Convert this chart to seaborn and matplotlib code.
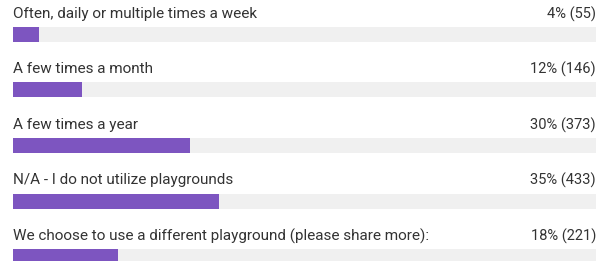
import pandas as pd
import seaborn as sns
import matplotlib.pyplot as plt

answers = [
    "Often, daily or multiple times a week",
    "A few times a month",
    "A few times a year",
    "N/A - I do not utilize playgrounds",
    "We choose to use a different playground (please share more):",
]
counts = [55, 146, 373, 433, 221]
pct_labels = ["4%", "12%", "30%", "35%", "18%"]

total = sum(counts)
df = pd.DataFrame({"answer": answers, "count": counts, "total": [total] * len(counts)})

plt.rcParams["font.family"] = ["Roboto", "DejaVu Sans"]

fig = plt.figure(figsize=(6.08, 2.61), dpi=100)
ax = fig.add_axes([13 / 608, 0, 583 / 608, 1])

# grey track behind each bar, then the purple share
sns.barplot(data=df, x="total", y="answer", orient="h", color="#f0f0f0",
            width=0.27, saturation=1, ax=ax)
sns.barplot(data=df, x="count", y="answer", orient="h", color="#7d55c0",
            width=0.27, saturation=1, ax=ax)

ax.set_xlim(0, total)
ax.set_ylim(4.08, -0.62)
ax.axis("off")

for i, (name, n, p) in enumerate(zip(answers, counts, pct_labels)):
    ax.text(0, i - 0.37, name, ha="left", va="center", fontsize=11, color="#333333")
    ax.text(total, i - 0.37, f"{p} ({n})", ha="right", va="center", fontsize=10.5,
            color="#333333")

fig.savefig("out.png", dpi=100, facecolor="white")
